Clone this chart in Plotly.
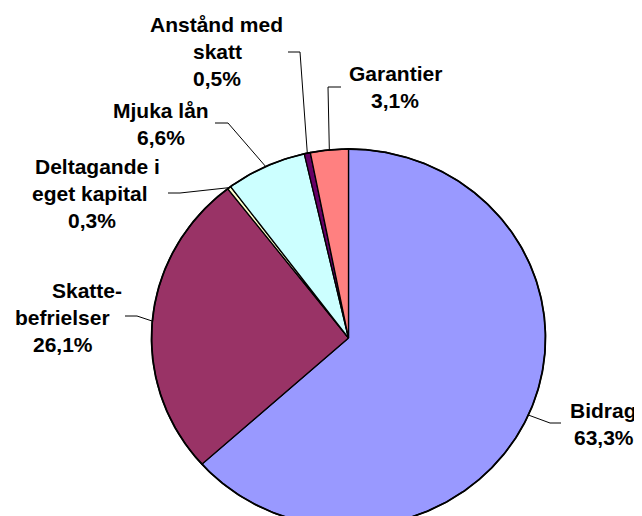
import numpy as np
import plotly.graph_objects as go

# ---- data ----
categories = ["Bidrag", "Skattebefrielser", "Deltagande i eget kapital",
              "Mjuka lån", "Anstånd med skatt", "Garantier"]
values = [63.3, 26.1, 0.3, 6.6, 0.5, 3.1]
pct_labels = ["63,3%", "26,1%", "0,3%", "6,6%", "0,5%", "3,1%"]
label_lines = [["Bidrag"], ["Skatte-", "befrielser"], ["Deltagande i", "eget kapital"],
               ["Mjuka lån"], ["Anstånd med", "skatt"], ["Garantier"]]
colors = ["#9999FF", "#993366", "#FFFFCC", "#CCFFFF", "#660066", "#FF8080"]

# ---- layout constants (axes mapped to page pixels; page body has an 8px margin) ----
OFF = 8
W, H = 642, 516
CX, CY, RX, RY = 348.5, 338.0, 197.0, 189.0
LINE_STEP = 27.3
FONT = dict(family="Liberation Sans, Arial, sans-serif", size=21, color="black")
label_x = [[603, 604], [87, 62, 63], [97, 90, 92], [161, 161], [216, 217, 217], [395, 395]]
label_y0 = [410, 290, 166, 110, 24, 73]
leader_elbow = [(550, 423), (137, 316), (180, 193), (228, 123), (300, 52), (328, 87)]
leader_end = [(561, 423), (125, 316), (168, 193), (215, 123), (288, 52), (341, 87)]


def pt(theta):
    return CX + RX * np.sin(theta), CY - RY * np.cos(theta)


fig = go.Figure()
total = sum(values)
cum = 0.0
mids = []
for v, c, name in zip(values, colors, categories):
    a0 = cum / total * 2 * np.pi
    a1 = (cum + v) / total * 2 * np.pi
    cum += v
    mids.append((a0 + a1) / 2)
    n = max(4, int(np.degrees(a1 - a0) * 2))
    th = np.linspace(a0, a1, n)
    ax, ay = pt(th)
    xs = [CX] + list(ax) + [CX]
    ys = [CY] + list(ay) + [CY]
    fig.add_trace(go.Scatter(x=xs, y=ys, mode="lines", fill="toself", fillcolor=c,
                             line=dict(color="black", width=1.3), name=name,
                             hoverinfo="name", showlegend=False))

# rim outline
th = np.linspace(0, 2 * np.pi, 721)
rx_, ry_ = pt(th)
fig.add_trace(go.Scatter(x=rx_, y=ry_, mode="lines", line=dict(color="black", width=1.8),
                         hoverinfo="skip", showlegend=False))

# leader lines and labels
for i, m in enumerate(mids):
    sx, sy = pt(m)
    ex, ey = leader_elbow[i]
    tx, ty = leader_end[i]
    fig.add_trace(go.Scatter(x=[sx, ex, tx], y=[sy, ey, ty], mode="lines",
                             line=dict(color="black", width=1), hoverinfo="skip",
                             showlegend=False))
    lines = label_lines[i] + [pct_labels[i]]
    for j, txt in enumerate(lines):
        fig.add_annotation(x=label_x[i][j], y=label_y0[i] + j * LINE_STEP, text="<b>%s</b>" % txt,
                           showarrow=False, xanchor="center", yanchor="middle", font=FONT)

fig.update_layout(
    width=W - OFF, height=H - OFF, margin=dict(l=0, r=0, t=0, b=0),
    paper_bgcolor="white", plot_bgcolor="white", showlegend=False,
    xaxis=dict(range=[OFF, W], visible=False, fixedrange=True),
    yaxis=dict(range=[H, OFF], visible=False, fixedrange=True),
)
fig.write_html("out.html")
